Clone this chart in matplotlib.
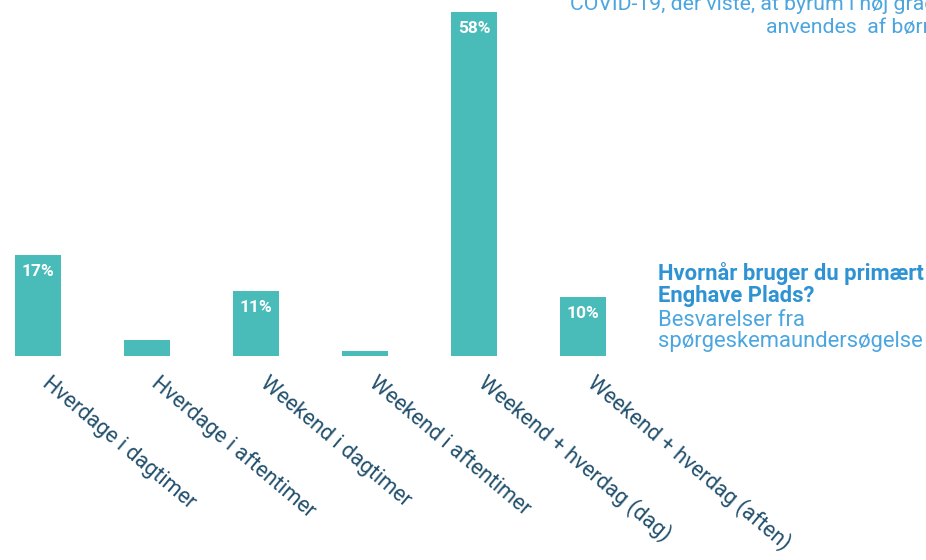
import matplotlib
matplotlib.use('Agg')
import matplotlib.pyplot as plt

# data
categories = ['Hverdage i dagtimer', 'Hverdage i aftentimer', 'Weekend i dagtimer',
              'Weekend i aftentimer', 'Weekend + hverdag (dag)', 'Weekend + hverdag (aften)']
values = [17, 2.7, 11, 0.8, 58, 10]
shown = ['17%', '', '11%', '', '58%', '10%']

bar_col = '#49bbb9'
lbl_col = '#22506d'
blue = '#2f93d3'
light_blue = '#4ba6e0'

plt.rcParams['font.family'] = ['Roboto', 'DejaVu Sans']

W, H = 926, 560
fig = plt.figure(figsize=(W / 100, H / 100), dpi=100)
# baseline at 356px from top, tallest bar top at 12px
ax = fig.add_axes([0, (H - 356) / H, 1, 344 / H])
x = list(range(len(values)))
ax.bar(x, values, width=46 / 109, color=bar_col)
ax.set_xlim(-38 / 109, (W - 38) / 109)
ax.set_ylim(0, 58)

for i, (v, s) in enumerate(zip(values, shown)):
    if s:
        ax.annotate(s, (i, v), xytext=(0, -12), textcoords='offset points',
                    ha='center', va='center', color='white', fontsize=12.5,
                    fontweight='bold')

# rotated category labels under each bar
for i, c in enumerate(categories):
    ax.annotate(c, (i, 0), xytext=(2.2, -21), textcoords='offset points',
                ha='left', va='baseline', rotation=-40, rotation_mode='anchor',
                color=lbl_col, fontsize=15.5, annotation_clip=False)

ax.set_xticks([])
ax.set_yticks([])
for sp in ax.spines.values():
    sp.set_visible(False)
ax.patch.set_alpha(0)

# question text on the right
fig.text(658 / W, 1 - 280 / H, 'Hvornår bruger du primært', color=blue,
         fontsize=15.8, fontweight='bold', va='baseline')
fig.text(658 / W, 1 - 302 / H, 'Enghave Plads?', color=blue,
         fontsize=15.8, fontweight='bold', va='baseline')
fig.text(658 / W, 1 - 326 / H, 'Besvarelser fra', color=light_blue,
         fontsize=15.8, va='baseline')
fig.text(658 / W, 1 - 347 / H, 'spørgeskemaundersøgelse', color=light_blue,
         fontsize=15.8, va='baseline')

# cut-off text at the top right (runs past the edge like in the source)
fig.text(570 / W, 1 - 9.5 / H, 'COVID-19, der viste, at byrum i høj grad', color=light_blue,
         fontsize=15.3, va='baseline')
fig.text(766 / W, 1 - 32.5 / H, 'anvendes  af børn', color=light_blue,
         fontsize=15.3, va='baseline')

fig.savefig('out.png', dpi=100)
